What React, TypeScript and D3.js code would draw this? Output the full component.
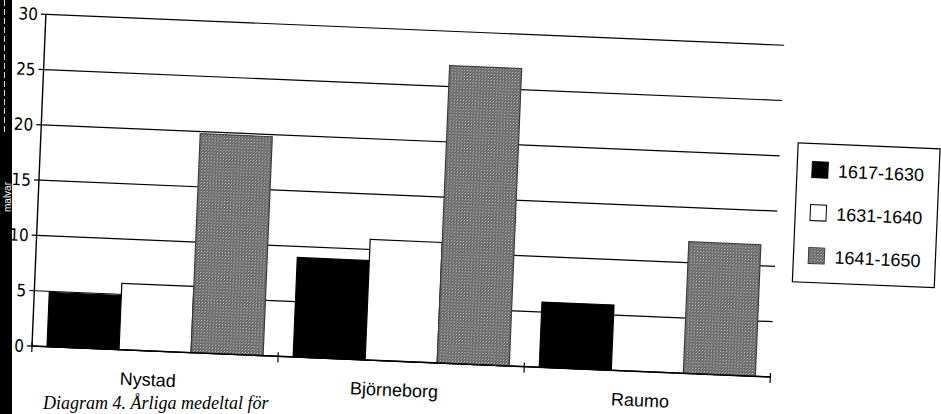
import * as d3 from "d3";

const categories = ["Nystad", "Björneborg", "Raumo"];
const periods = ["1617-1630", "1631-1640", "1641-1650"];
const values1617 = [4.9, 9.0, 5.9];
const values1631 = [6.0, 10.9, 0];
const values1641 = [19.8, 26.9, 11.9];
const yTicks = [0, 5, 10, 15, 20, 25, 30];

const series = [values1617, values1631, values1641];
const fills = ["#000", "#fff", "url(#stipple)"];
const strokes = ["#000", "#000", "#3a3a3a"];

export default function App() {
  const width = 941;
  const height = 414;
  // plot frame before the scan tilt
  const origin = { x: 32, y: 346 };
  const plotW = 739;
  const plotH = 332;
  const tilt = 2.4;

  const x0 = d3
    .scaleBand<string>()
    .domain(categories)
    .range([0, plotW])
    .paddingInner(0.122)
    .paddingOuter(0.061);

  const x1 = d3
    .scaleBand<number>()
    .domain([0, 1, 2])
    .range([0, x0.bandwidth()]);

  const y = d3.scaleLinear().domain([0, 30]).range([0, -plotH]);

  const step = plotW / categories.length;
  const catTicks = d3.range(categories.length + 1).map((i) => i * step);

  const labelFont = "'Liberation Sans', Arial, sans-serif";
  const tickFont = "'Liberation Sans Narrow', 'DejaVu Sans Condensed', sans-serif";

  return (
    <svg
      width={width}
      height={height}
      style={{ position: "absolute", left: 0, top: 0, background: "#fff" }}
    >
      <defs>
        <pattern id="stipple" width={3} height={3} patternUnits="userSpaceOnUse">
          <rect width={3} height={3} fill="#5e5e5e" />
          <rect x={0} y={0} width={1} height={1} fill="#e2e2e2" />
          <rect x={2} y={1} width={1} height={1} fill="#a4a4a4" />
          <rect x={1} y={2} width={1} height={1} fill="#8a8a8a" />
        </pattern>
      </defs>

      {/* scan edge */}
      <rect x={0} y={0} width={12} height={height} fill="#000" />
      <line x1={4.5} y1={0} x2={4.5} y2={135} stroke="#ddd" strokeWidth={1} strokeDasharray="6 3" />
      <text
        transform="translate(10.5, 212) rotate(-90)"
        fontFamily={labelFont}
        fontSize={10}
        fill="#fff"
      >
        malvar
      </text>

      <g transform={`translate(${origin.x}, ${origin.y}) rotate(${tilt})`}>
        {/* gridlines */}
        {yTicks.map((t) => (
          <line
            key={t}
            x1={-5}
            x2={plotW}
            y1={y(t)}
            y2={y(t)}
            stroke="#000"
            strokeWidth={1.2}
          />
        ))}

        {/* bars */}
        {categories.map((c, ci) => (
          <g key={c} transform={`translate(${x0(c)}, 0)`}>
            {series.map((vals, si) =>
              vals[ci] > 0 ? (
                <rect
                  key={si}
                  x={x1(si)}
                  y={y(vals[ci])}
                  width={x1.bandwidth()}
                  height={-y(vals[ci])}
                  fill={fills[si]}
                  stroke={strokes[si]}
                  strokeWidth={1.2}
                />
              ) : null
            )}
          </g>
        ))}

        {/* y axis */}
        <line x1={0} x2={0} y1={0} y2={y(30)} stroke="#000" strokeWidth={1.4} />
        {yTicks.map((t) => (
          <text
            key={t}
            x={-8}
            y={y(t)}
            dy="0.36em"
            textAnchor="end"
            fontFamily={tickFont}
            fontSize={17}
            fill="#000"
          >
            {t}
          </text>
        ))}

        {/* x axis */}
        <line x1={0} x2={plotW} y1={0} y2={0} stroke="#000" strokeWidth={1.4} />
        {catTicks.map((t, i) => (
          <line key={i} x1={t} x2={t} y1={-4} y2={6} stroke="#000" strokeWidth={1.2} />
        ))}
        {categories.map((c) => (
          <text
            key={c}
            x={(x0(c) ?? 0) + x0.bandwidth() / 2 - 6}
            y={35}
            textAnchor="middle"
            fontFamily={labelFont}
            fontSize={18}
            fill="#000"
          >
            {c}
          </text>
        ))}

        {/* legend */}
        <g transform={`translate(${plotW + 18}, ${-235})`}>
          <rect x={0} y={0} width={142} height={139} fill="#fff" stroke="#000" strokeWidth={1.2} />
          {periods.map((p, i) => (
            <g key={p} transform={`translate(15, ${18 + i * 43})`}>
              <rect
                width={16}
                height={16}
                fill={fills[i]}
                stroke={strokes[i]}
                strokeWidth={1}
              />
              <text x={26} y={15} fontFamily={labelFont} fontSize={18} fill="#000">
                {p}
              </text>
            </g>
          ))}
        </g>
      </g>

      {/* caption at the page edge */}
      <text
        x={43}
        y={409}
        fontFamily="'Liberation Serif', 'DejaVu Serif', serif"
        fontStyle="italic"
        fontSize={18}
        fill="#000"
      >
        Diagram 4. Årliga medeltal för
      </text>
    </svg>
  );
}
